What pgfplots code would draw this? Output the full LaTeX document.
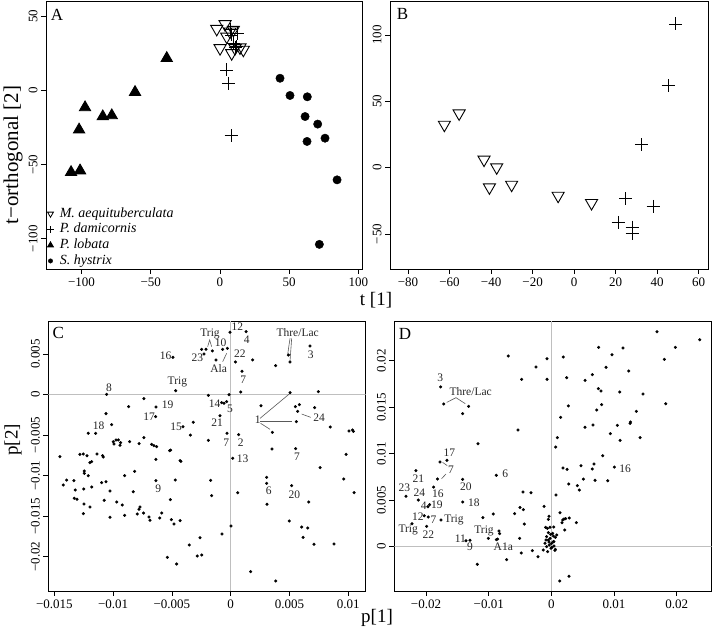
\documentclass[border=0pt]{standalone}
\usepackage{fontspec}
\setmainfont{Liberation Serif}
\usepackage{pgfplots}
\pgfplotsset{compat=1.18}
\pgfplotsset{
  panel/.style={scale only axis, axis line style={line width=0.9pt, black},
    tick align=outside, tick pos=left, major tick length=5pt,
    tick style={black, line width=0.8pt},
    tick label style={font=\fontsize{13}{13}\selectfont},
    yticklabel style={rotate=90, anchor=south},
    scaled ticks=false},
  dots/.style={only marks, mark=*, mark size=1.35pt, black},
  zline/.style={gray!50, line width=0.9pt, forget plot, no marks},
}
\tikzset{
  lab/.style={font=\fontsize{11.5}{11.5}\selectfont, inner sep=0pt, text=black!85},
  ann/.style={black!65, line width=0.6pt},
}
\begin{document}
\begin{tikzpicture}[x=1pt,y=1pt]
\useasboundingbox (0,0) rectangle (712,642);
% ---------------- A ----------------
\begin{axis}[panel, at={(46pt,373pt)}, anchor=south west, width=316pt, height=268pt,
  xmin=-125.6, xmax=102.6, ymin=-120.3, ymax=60.4,
  xtick={-100,-50,0,50,100}, xticklabels={−100,−50,0,50,100},
  ytick={-100,-50,0,50}, yticklabels={−100,−50,0,50},
  legend style={at={(rel axis cs:0,0)}, anchor=south west, xshift=1pt, draw=none, fill=none,
    inner sep=0pt, column sep=5pt, row sep=0pt,
    font=\fontsize{14}{14}\selectfont\itshape,
    nodes={inner xsep=1pt, inner ysep=1.6pt, text height=9.5pt, text depth=3pt}},
  legend cell align=left]
\addplot[only marks, black, mark=triangle, mark size=7pt, line width=0.9pt, mark options={rotate=180},
  legend image code/.code={\draw[black, line width=0.8pt] plot[mark=triangle, mark size=3.4pt, mark options={rotate=180}] coordinates {(3pt,0pt)};}]
  coordinates {(-2.3,41.6) (3.7,44.8) (7.3,39.8) (4.9,36.4) (9.7,40.9) (0.1,28.6) (8.5,25.2) (10.9,28.6) (14.5,29.1) (16.9,27.5)};
\addlegendentry{M. aequituberculata}
\addplot[only marks, black, mark=+, mark size=6.5pt, line width=0.9pt,
  legend image code/.code={\draw[black, line width=0.8pt] plot[mark=+, mark size=3.3pt] coordinates {(3pt,0pt)};}]
  coordinates {(12.6,38.6) (7.3,41.3) (8.5,37.5) (9.7,31.9) (10.9,29) (12.1,29.6) (4.9,13.9) (6.1,5) (8,-30.5)};
\addlegendentry{P. damicornis}
\addplot[only marks, black, mark=triangle*, mark size=6.5pt, line width=0.9pt,
  legend image code/.code={\draw[black, fill=black] plot[mark=triangle*, mark size=3.3pt] coordinates {(3pt,0pt)};}]
  coordinates {(-38.4,21.8) (-61.3,-1.1) (-97.4,-11.4) (-84.6,-17.5) (-78.1,-16.8) (-101.7,-26.4) (-107.5,-55.1) (-101,-54)};
\addlegendentry{P. lobata}
\addplot[only marks, black, mark=*, mark size=4.2pt,
  legend image code/.code={\draw[black, fill=black] plot[mark=*, mark size=2.2pt] coordinates {(3pt,0pt)};}]
  coordinates {(43.4,8.3) (50.6,-3.3) (63.1,-4.2) (61.5,-17.5) (70.6,-22.6) (62.9,-34.3) (75.9,-32.1) (84.6,-60.2) (71.8,-103.7)};
\addlegendentry{S. hystrix}
\end{axis}
% ---------------- B ----------------
\begin{axis}[panel, at={(390pt,373pt)}, anchor=south west, width=318pt, height=268pt,
  xmin=-88.7, xmax=64.5, ymin=-76.3, ymax=125.6,
  xtick={-80,-60,-40,-20,0,20,40,60}, xticklabels={−80,−60,−40,−20,0,20,40,60},
  ytick={-50,0,50,100}, yticklabels={−50,0,50,100}]
\addplot[only marks, black, mark=triangle, mark size=7pt, line width=0.9pt, mark options={rotate=180}]
  coordinates {(-62.5,32.4) (-55.4,40.9) (-43.4,6.1) (-37.3,0.3) (-40.8,-14.8) (-30.1,-12.8) (-7.7,-21.1) (8.4,-26.6)};
\addplot[only marks, black, mark=+, mark size=6.5pt, line width=0.9pt]
  coordinates {(49,108.3) (45.3,61.6) (32.4,17.2) (24.9,-23.4) (38.1,-29.2) (21.2,-41.2) (27.9,-44.8) (27.9,-49.2)};
\end{axis}
% ---------------- C ----------------
\begin{axis}[panel, at={(48.3pt,51pt)}, anchor=south west, width=317.4pt, height=269.3pt,
  xmin=-0.01552, xmax=0.01149, ymin=-0.02424, ymax=0.00898,
  xtick={-0.015,-0.01,-0.005,0,0.005,0.01}, xticklabels={−0.015,−0.01,−0.005,0,0.005,0.01},
  ytick={-0.02,-0.015,-0.01,-0.005,0,0.005}, yticklabels={−0.02,−0.015,−0.01,−0.005,0,0.005}]
\addplot[zline] coordinates {(0,-0.03) (0,0.01)};
\addplot[zline] coordinates {(-0.02,0) (0.02,0)};
\addplot[dots] coordinates {
(-0.00006,0.00767) (0.00131,0.00775) (-0.00247,0.00557) (-0.00210,0.00557) (-0.00227,0.00500)
(-0.00156,0.00537) (-0.00068,0.00557) (-0.00028,0.00570) (-0.00125,0.00426) (0.00040,0.00401)
(0.00187,0.00426) (0.00096,0.00286) (-0.00491,0.00458) (0.00383,0.00356) (0.00491,0.00487)
(0.00505,0.00401) (0.00675,0.00598) (-0.01056,0.00002) (-0.00468,0.00047) (-0.00190,-0.00010)
(-0.00014,-0.00002) (0.00085,0.00031) (0.00505,0.00023) (0.00746,0.00035) (-0.00738,-0.00051)
(-0.00868,-0.00150) (-0.00636,-0.00154) (-0.01061,-0.00236) (-0.00638,-0.00273) (-0.00077,-0.00101)
(-0.00057,-0.00109) (-0.00034,-0.00088) (-0.00091,-0.00261) (0.00258,-0.00138) (0.00551,-0.00150)
(0.00585,-0.00125) (0.00715,-0.00162) (0.00570,-0.00208) (0.00559,-0.00335) (-0.01013,-0.00372)
(-0.00318,-0.00343) (-0.00406,-0.00397) (-0.01212,-0.00479) (-0.01149,-0.00479) (-0.00343,-0.00500)
(-0.00031,-0.00479) (0.00068,-0.00495) (0.00355,-0.00467) (0.00848,-0.00401) (0.01007,-0.00450)
(0.01036,-0.00438) (0.01044,-0.00454) (-0.00738,-0.00532) (-0.00190,-0.00565) (-0.00976,-0.00561)
(-0.00956,-0.00561) (-0.00999,-0.00582) (-0.00936,-0.00594) (-0.00993,-0.00611) (-0.00942,-0.00627)
(-0.00860,-0.00582) (-0.00780,-0.00606) (-0.00673,-0.00615) (-0.00653,-0.00631) (-0.00630,-0.00644)
(-0.00519,-0.00693) (-0.00511,-0.00685) (-0.01453,-0.00767) (-0.01283,-0.00738) (-0.01254,-0.00734)
(-0.01223,-0.00755) (-0.01183,-0.00829) (-0.01198,-0.00841) (-0.01138,-0.00734) (-0.01090,-0.00755)
(-0.01084,-0.00771) (-0.00636,-0.00800) (-0.00431,-0.00816) (-0.00423,-0.00825) (0.00017,-0.00787)
(0.00352,-0.00672) (0.00553,-0.00668) (0.00982,-0.00738) (0.00761,-0.00903) (-0.00902,-0.01001)
(-0.01246,-0.00944) (-0.01246,-0.00973) (-0.01212,-0.01001) (-0.00817,-0.00948) (0.00306,-0.01022)
(-0.00636,-0.01063) (-0.00471,-0.01055) (-0.00170,-0.01059) (0.00962,-0.01042) (-0.01425,-0.01116)
(-0.01396,-0.01055) (-0.01334,-0.01063) (-0.01183,-0.01141) (-0.01251,-0.01166) (-0.01098,-0.01088)
(-0.01061,-0.01075) (-0.01027,-0.01190) (-0.00829,-0.01199) (0.00306,-0.01096) (0.00519,-0.01125)
(-0.01322,-0.01178) (-0.01331,-0.01281) (-0.01308,-0.01293) (-0.01249,-0.01351) (-0.01198,-0.01388)
(-0.01076,-0.01306) (-0.00970,-0.01326) (-0.00922,-0.01363) (-0.00902,-0.01491) (-0.00772,-0.01388)
(-0.00780,-0.01416) (-0.00795,-0.01474) (-0.01027,-0.01515) (-0.01254,-0.01470) (-0.00695,-0.01511)
(-0.00687,-0.01552) (-0.00741,-0.01462) (-0.00514,-0.01297) (-0.00587,-0.01462) (-0.00604,-0.01524)
(-0.00505,-0.01544) (-0.00431,-0.01556) (-0.00162,-0.01248) (0.00060,-0.01211) (0.00309,-0.01355)
(0.00664,-0.01326) (0.01050,-0.01211) (0.00499,-0.01560) (0.00604,-0.01635) (0.00616,-0.01762)
(0.00656,-0.01647) (0.00709,-0.01848) (0.00880,-0.01844) (0.00003,-0.01622) (-0.00074,-0.01721)
(-0.00482,-0.01597) (-0.00352,-0.01856) (-0.00261,-0.01766) (-0.00284,-0.01992) (-0.00247,-0.01980)
(-0.00539,-0.02009) (-0.00460,-0.02091) (0.00170,-0.02185) (0.00383,-0.02300)};
\node[lab] at (axis cs:0.00057,0.00837) {12};
\node[lab] at (axis cs:0.00136,0.00672) {4};
\node[lab] at (axis cs:-0.00176,0.00746) {Trig};
\node[lab] at (axis cs:-0.00085,0.00639) {10};
\node[lab] at (axis cs:0.00079,0.00508) {22};
\node[lab] at (axis cs:-0.00284,0.00458) {23};
\node[lab] at (axis cs:-0.00553,0.00479) {16};
\node[lab] at (axis cs:-0.00102,0.00319) {Ala};
\node[lab] at (axis cs:0.00108,0.00179) {7};
\node[lab] at (axis cs:0.00570,0.00767) {Thre/Lac};
\node[lab] at (axis cs:0.00681,0.00495) {3};
\node[lab] at (axis cs:-0.01036,0.00088) {8};
\node[lab] at (axis cs:-0.00454,0.00158) {Trig};
\node[lab] at (axis cs:-0.00536,-0.00130) {19};
\node[lab] at (axis cs:-0.00695,-0.00273) {17};
\node[lab] at (axis cs:-0.00136,-0.00113) {14};
\node[lab] at (axis cs:-0.00006,-0.00179) {5};
\node[lab] at (axis cs:-0.00116,-0.00343) {21};
\node[lab] at (axis cs:0.00230,-0.00315) {1};
\node[lab] at (axis cs:0.00752,-0.00290) {24};
\node[lab] at (axis cs:-0.01124,-0.00380) {18};
\node[lab] at (axis cs:-0.00465,-0.00401) {15};
\node[lab] at (axis cs:-0.00037,-0.00590) {7};
\node[lab] at (axis cs:0.00085,-0.00590) {2};
\node[lab] at (axis cs:0.00102,-0.00787) {13};
\node[lab] at (axis cs:0.00565,-0.00771) {7};
\node[lab] at (axis cs:-0.00616,-0.01166) {9};
\node[lab] at (axis cs:0.00324,-0.01190) {6};
\node[lab] at (axis cs:0.00542,-0.01232) {20};
\draw[ann] (axis cs:-0.00196,0.00590) -- (axis cs:-0.00179,0.00672) -- (axis cs:-0.00162,0.00590);
\draw[ann] (axis cs:-0.00068,0.00405) -- (axis cs:-0.00034,0.00508);
\draw[ann] (axis cs:0.00505,0.00693) -- (axis cs:0.00485,0.00495);
\draw[ann] (axis cs:0.00519,0.00693) -- (axis cs:0.00505,0.00413);
\draw[ann] (axis cs:0.00250,-0.00294) -- (axis cs:0.00505,0.00014);
\draw[ann] (axis cs:0.00250,-0.00327) -- (axis cs:0.00525,-0.00327);
\draw[ann] (axis cs:0.00255,-0.00356) -- (axis cs:0.00335,-0.00430);
\draw[ann] (axis cs:0.00604,-0.00241) -- (axis cs:0.00681,-0.00282);
\end{axis}
% ---------------- D ----------------
\begin{axis}[panel, at={(394.3pt,51pt)}, anchor=south west, width=317.4pt, height=269.3pt,
  xmin=-0.02506, xmax=0.02557, ymin=-0.00476, ymax=0.0242,
  xtick={-0.02,-0.01,0,0.01,0.02}, xticklabels={−0.02,−0.01,0,0.01,0.02},
  ytick={0,0.005,0.01,0.015,0.02}, yticklabels={0,0.005,0.01,0.015,0.02}]
\addplot[zline] coordinates {(0,-0.01) (0,0.03)};
\addplot[zline] coordinates {(-0.03,0) (0.03,0)};
\addplot[dots] coordinates {
(0.01684,0.02312) (0.02366,0.02226) (0.01978,0.02144) (0.01801,0.02015) (0.00754,0.02144)
(0.01143,0.02137) (0.00967,0.02065) (-0.00688,0.02051) (-0.00070,0.02022) (0.00190,0.02040)
(0.00871,0.01929) (0.01233,0.01890) (-0.00246,0.01933) (0.00653,0.01850) (-0.00474,0.01800)
(-0.00070,0.01800) (0.00244,0.01818) (0.00536,0.01789) (0.00749,0.01700) (0.00791,0.01675)
(0.01089,0.01664) (0.01462,0.01642) (0.01823,0.01538) (-0.01767,0.01718) (-0.01719,0.01535)
(-0.01321,0.01510) (-0.01416,0.01431) (0.00270,0.01514) (0.00802,0.01528) (0.00722,0.01470)
(0.01355,0.01456) (0.00148,0.01391) (0.01260,0.01341) (0.01255,0.01327) (0.00664,0.01309)
(0.00536,0.01284) (0.01052,0.01305) (-0.00533,0.01255) (0.00940,0.01216) (0.00095,0.01173)
(0.00068,0.01072) (0.01414,0.01173) (0.01095,0.01144) (-0.01171,0.01108) (0.00818,0.00979)
(-0.01778,0.00911) (-0.01666,0.00929) (-0.02161,0.00818) (-0.01816,0.00728) (-0.01879,0.00642)
(-0.00879,0.00768) (-0.01416,0.00725) (0.00185,0.00847) (0.00249,0.00832) (0.00472,0.00872)
(0.00653,0.00836) (0.00680,0.00890) (0.01004,0.00857) (0.00510,0.00728) (0.00696,0.00714)
(0.00898,0.00710) (0.00276,0.00675) (0.00414,0.00657) (0.00446,0.00610) (0.00073,0.00556)
(-0.00453,0.00589) (-0.00326,0.00581) (-0.01416,0.00481) (-0.02320,0.00542) (-0.02123,0.00502)
(-0.01969,0.00431) (-0.01943,0.00452) (-0.02028,0.00334) (-0.01964,0.00320) (-0.01762,0.00287)
(-0.01092,0.00313) (-0.00927,0.00352) (-0.00587,0.00356) (-0.00501,0.00421) (-0.00448,0.00399)
(-0.00118,0.00434) (-0.00432,0.00244) (-0.00038,0.00327) (-0.00049,0.00295) (-0.00092,0.00209)
(-0.00065,0.00198) (-0.00022,0.00209) (0.00036,0.00212) (0.00137,0.00366) (0.00180,0.00287)
(0.00201,0.00298) (0.00228,0.00302) (0.00286,0.00309) (0.00398,0.00259) (0.00169,0.00259)
(0.00212,0.00180) (-0.02224,0.00248) (-0.01990,0.00219) (-0.01363,0.00065) (-0.01299,0.00069)
(-0.01006,0.00090) (-0.00836,0.00169) (-0.00826,0.00141) (-0.00879,0.00076) (-0.00858,0.00083)
(-0.00507,0.00090) (-0.00480,-0.00067) (-0.00304,-0.00042) (-0.00214,-0.00107) (-0.00714,-0.00139)
(-0.01182,-0.00189) (0.00132,-0.00368) (0.00281,-0.00318) (0.00057,-0.00039) (-0.00076,0.00108)
(-0.00049,0.00072) (-0.00022,0.00090) (0.00004,0.00037) (0.00031,0.00055) (-0.00033,0.00019)
(-0.00102,0.00037) (-0.00076,0.00001) (0.00041,0.00008) (-0.00006,-0.00017) (-0.00129,-0.00035)
(-0.00060,-0.00053) (0.00031,0.00115) (0.00063,0.00101) (0.00084,0.00126) (-0.00012,0.00133)
(0.00020,0.00144) (-0.00049,0.00151) (0.00041,0.00055) (0.00010,-0.00006) (-0.00038,0.00051)
(0.00063,-0.00028) (-0.00086,0.00072)};
\node[lab] at (axis cs:-0.01772,0.01814) {3};
\node[lab] at (axis cs:-0.01288,0.01667) {Thre/Lac};
\node[lab] at (axis cs:-0.01629,0.01008) {17};
\node[lab] at (axis cs:-0.01603,0.00825) {7};
\node[lab] at (axis cs:-0.02123,0.00728) {21};
\node[lab] at (axis cs:-0.02347,0.00639) {23};
\node[lab] at (axis cs:-0.02107,0.00581) {24};
\node[lab] at (axis cs:-0.01810,0.00571) {16};
\node[lab] at (axis cs:-0.02035,0.00440) {4};
\node[lab] at (axis cs:-0.01826,0.00452) {19};
\node[lab] at (axis cs:-0.02130,0.00318) {12};
\node[lab] at (axis cs:-0.01879,0.00288) {7};
\node[lab] at (axis cs:-0.01554,0.00288) {Trig};
\node[lab] at (axis cs:-0.02284,0.00180) {Trig};
\node[lab] at (axis cs:-0.01964,0.00126) {22};
\node[lab] at (axis cs:-0.01453,0.00087) {11};
\node[lab] at (axis cs:-0.01299,-0.00002) {9};
\node[lab] at (axis cs:-0.01075,0.00173) {Trig};
\node[lab] at (axis cs:-0.00767,-0.00002) {A1a};
\node[lab] at (axis cs:-0.01363,0.00646) {20};
\node[lab] at (axis cs:-0.01235,0.00477) {18};
\node[lab] at (axis cs:-0.00735,0.00786) {6};
\node[lab] at (axis cs:0.01174,0.00836) {16};
\draw[ann] (axis cs:-0.01671,0.01552) -- (axis cs:-0.01522,0.01603) -- (axis cs:-0.01373,0.01538);
\draw[ann] (axis cs:-0.01735,0.00907) -- (axis cs:-0.01661,0.00872);
\draw[ann] (axis cs:-0.01751,0.00732) -- (axis cs:-0.01682,0.00782);
\end{axis}
% ---------------- labels ----------------
\node[font=\fontsize{17}{17}\selectfont] at (57,627.3) {A};
\node[font=\fontsize{17}{17}\selectfont] at (402.5,628) {B};
\node[font=\fontsize{17}{17}\selectfont] at (58.3,308.7) {C};
\node[font=\fontsize{17}{17}\selectfont] at (405,308) {D};
\node[rotate=90, font=\fontsize{21}{21}\selectfont] at (13,487) {t−orthogonal [2]};
\node[font=\fontsize{19}{19}\selectfont] at (376,342) {t [1]};
\node[rotate=90, font=\fontsize{19}{19}\selectfont] at (13,202) {p[2]};
\node[font=\fontsize{19}{19}\selectfont] at (377,24) {p[1]};
\end{tikzpicture}
\end{document}
